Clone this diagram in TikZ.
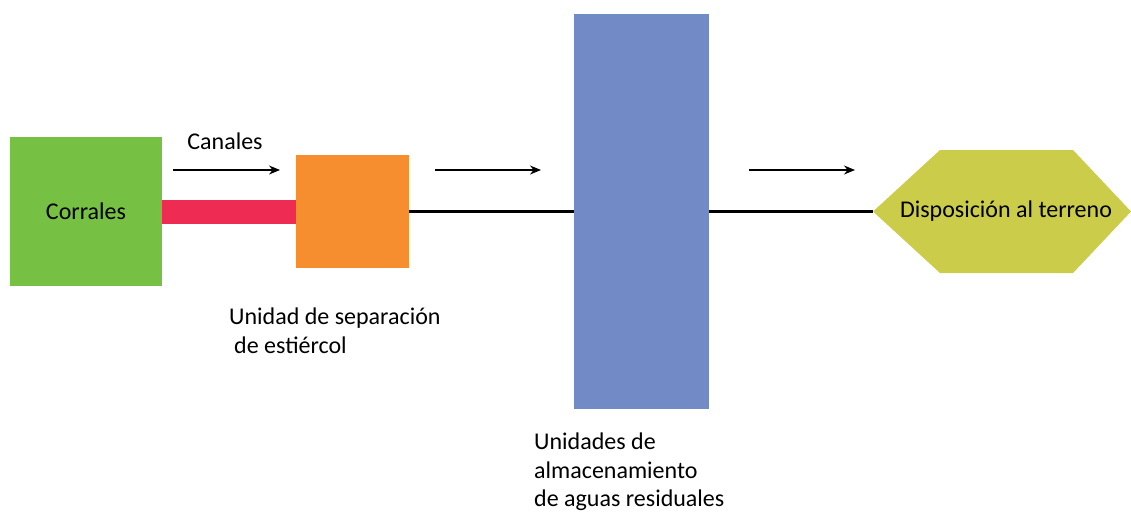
\documentclass[tikz,border=0pt]{standalone}
\usepackage{fontspec}
\setmainfont{Carlito}
\usepackage{tikz}
\usetikzlibrary{arrows.meta, shapes}

\definecolor{corralgreen}{RGB}{118,192,67}
\definecolor{canalred}{RGB}{238,44,83}
\definecolor{seporange}{RGB}{246,141,46}
\definecolor{storeblue}{RGB}{114,139,199}
\definecolor{soilyellow}{RGB}{203,204,73}

\begin{document}
\begin{tikzpicture}[x=1pt, y=-1pt, font=\fontsize{24}{28.5}\selectfont]
\useasboundingbox (0,0) rectangle (1131,514);
\begin{scope}[every node/.style={rectangle, inner sep=0pt, outer sep=0pt}]
  \node[fill=corralgreen, minimum width=152, minimum height=149] (corr) at (86,211.5) {Corrales};
  \node[fill=seporange, minimum width=113, minimum height=113] (sep) at (352.5,211.5) {};
  \node[fill=storeblue, minimum width=135, minimum height=395] (store) at (641.5,211.5) {};
\end{scope}

% hexagono de disposicion
\coordinate (dispw) at (873,211.5);
\fill[soilyellow] (dispw) -- (940,150) -- (1073,150) -- (1131,211.5) -- (1073,273) -- (940,273) -- cycle;
\node (disp) at (1006,211.5) {Disposición al terreno};

% etiquetas
\node (canal) at (225,141) {Canales};
\node[anchor=north west, align=left, inner sep=0pt] (seplabel) at (229,308) {Unidad de separación\\\hspace{5pt}de estiércol};
\node[anchor=north west, align=left, inner sep=0pt] (storelabel) at (534,433) {Unidades de\\almacenamiento\\de aguas residuales};

% conexiones
\draw[canalred, line width=24] (corr.east) -- (sep.west);
\draw[line width=2.5] (sep.east) -- (store.west);
\draw[line width=2.5] (store.east) -- (dispw);

% flechas de flujo
\begin{scope}[>={Stealth[length=11, width=9]}, line width=1.2]
  \coordinate (f1a) at (173,170); \coordinate (f1b) at (280,170);
  \coordinate (f2a) at (435,170); \coordinate (f2b) at (541,170);
  \coordinate (f3a) at (749,170); \coordinate (f3b) at (855,170);
  \draw[->] (f1a) -- (f1b);
  \draw[->] (f2a) -- (f2b);
  \draw[->] (f3a) -- (f3b);
\end{scope}
\end{tikzpicture}
\end{document}
